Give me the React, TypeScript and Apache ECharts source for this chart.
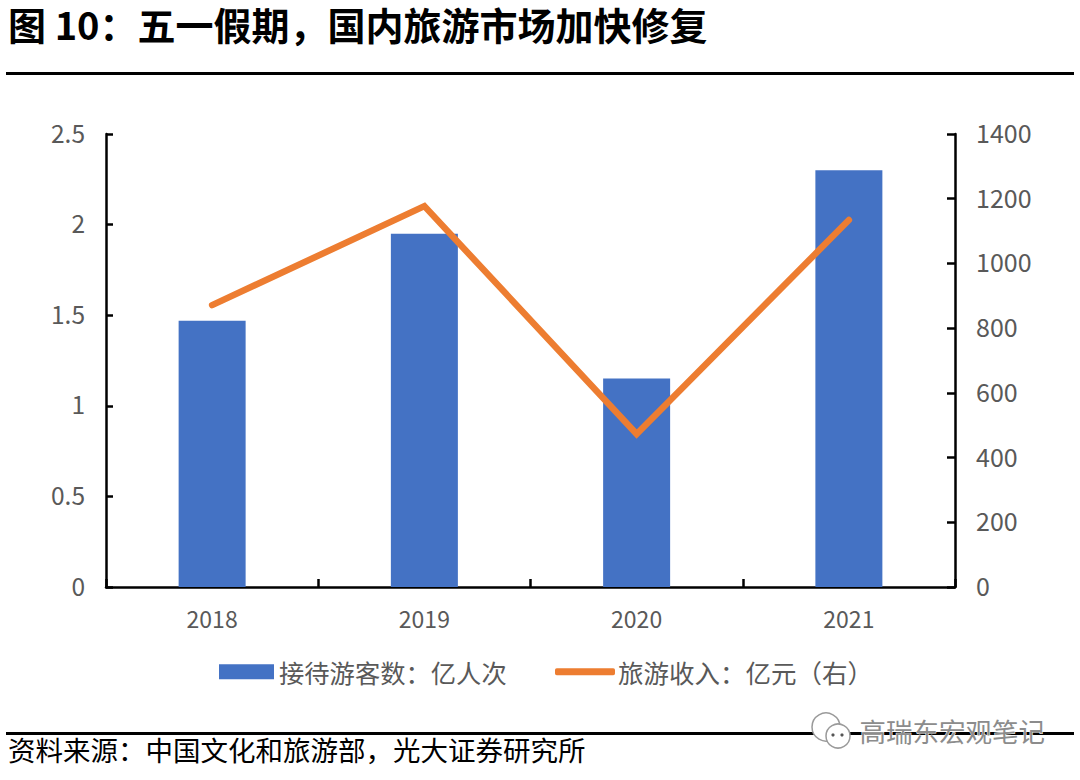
import React, { useEffect, useRef } from "react";
import * as echarts from "echarts";

const categories = ["2018", "2019", "2020", "2021"];
const visitors = [1.47, 1.95, 1.15, 2.3];
const revenue = [871, 1177, 473, 1134];
const FONT = '"Noto Sans CJK SC", "Noto Sans", sans-serif';
const GREY = "#595959";

const tickRich = { a: { fontFamily: FONT, fontSize: 24.5, color: GREY, padding: [0, 0, 4, 0] } };
const tickRichRight = { a: { fontFamily: FONT, fontSize: 25, color: GREY, padding: [0, 0, 4, 0] } };

export default function App() {
  const ref = useRef<HTMLDivElement>(null);
  useEffect(() => {
    document.body.style.margin = "0";
    const chart = echarts.init(ref.current!, null, { renderer: "svg" });
    chart.setOption({
      animation: false,
      backgroundColor: "#fff",
      textStyle: { fontFamily: FONT },
      grid: { left: 106, right: 125, top: 134, bottom: 193, containLabel: false },
      legend: [
        {
          left: 214, top: 654, itemWidth: 55, itemHeight: 15,
          selectedMode: false,
          textStyle: { fontFamily: FONT, fontSize: 25.3, color: GREY },
          data: [{ name: "接待游客数：亿人次", icon: "rect" }],
        },
        {
          left: 550, top: 654, itemWidth: 60, itemHeight: 7,
          selectedMode: false,
          textStyle: { fontFamily: FONT, fontSize: 25.5, color: GREY, padding: [0, 0, 0, -2] },
          data: [{ name: "旅游收入：亿元（右）", icon: "roundRect" }],
        },
      ],
      xAxis: {
        type: "category", data: categories,
        axisLine: { lineStyle: { color: "#000", width: 2.5 } },
        axisTick: { show: true, inside: true, length: 8, alignWithLabel: false, lineStyle: { color: "#000", width: 2.5 } },
        axisLabel: { fontFamily: FONT, fontSize: 23, color: GREY, margin: 19 },
      },
      yAxis: [
        {
          type: "value", min: 0, max: 2.5, interval: 0.5, position: "left",
          axisLine: { show: true, lineStyle: { color: "#000", width: 2.5 } },
          axisTick: { show: true, inside: true, length: 7, lineStyle: { color: "#000", width: 2.5 } },
          axisLabel: { margin: 21, rich: tickRich, formatter: (v: number) => `{a|${v}}` },
          splitLine: { show: false },
        },
        {
          type: "value", min: 0, max: 1400, interval: 200, position: "right",
          axisLine: { show: true, lineStyle: { color: "#000", width: 2.5 } },
          axisTick: { show: true, inside: true, length: 8, lineStyle: { color: "#000", width: 2.5 } },
          axisLabel: { margin: 21, rich: tickRichRight, formatter: (v: number) => `{a|${v}}` },
          splitLine: { show: false },
        },
      ],
      series: [
        {
          name: "接待游客数：亿人次", type: "bar", data: visitors, barWidth: 67, z: 2,
          itemStyle: { color: "#4472C4" },
        },
        {
          name: "旅游收入：亿元（右）", type: "line", yAxisIndex: 1, data: revenue, z: 3,
          showSymbol: false, symbol: "none",
          lineStyle: { color: "#ED7D31", width: 6.5, cap: "round", join: "miter" },
          itemStyle: { color: "#ED7D31" },
        },
      ],
      graphic: [
        { type: "text", left: 8, top: 4, style: { text: "图 10：五一假期，国内旅游市场加快修复", fontFamily: FONT, fontSize: 38, lineHeight: 38, fontWeight: "bold", fill: "#000" } },
        { type: "rect", shape: { x: 6, y: 72, width: 1068, height: 3 }, style: { fill: "#000" } },
        { type: "rect", shape: { x: 6, y: 732, width: 1068, height: 3 }, style: { fill: "#000" } },
        { type: "text", left: 8, top: 735, style: { text: "资料来源：中国文化和旅游部，光大证券研究所", fontFamily: FONT, fontSize: 27.5, fill: "#000" } },
        { type: "circle", shape: { cx: 826, cy: 727, r: 14 }, style: { fill: "#fff", stroke: "#9a9a9a", lineWidth: 1.5 } },
        { type: "circle", shape: { cx: 838, cy: 736, r: 12 }, style: { fill: "#fff", stroke: "#9a9a9a", lineWidth: 1.5 } },
        { type: "circle", shape: { cx: 833, cy: 735, r: 1.6 }, style: { fill: "#555" } },
        { type: "circle", shape: { cx: 842, cy: 735, r: 1.6 }, style: { fill: "#555" } },
        { type: "text", left: 859, top: 717, style: { text: "高瑞东宏观笔记", fontFamily: FONT, fontSize: 26.5, fill: "#8c8c8c", stroke: "#fff", lineWidth: 1 } },
      ],
    });
    return () => chart.dispose();
  }, []);
  return <div ref={ref} style={{ width: 1080, height: 780 }} />;
}
